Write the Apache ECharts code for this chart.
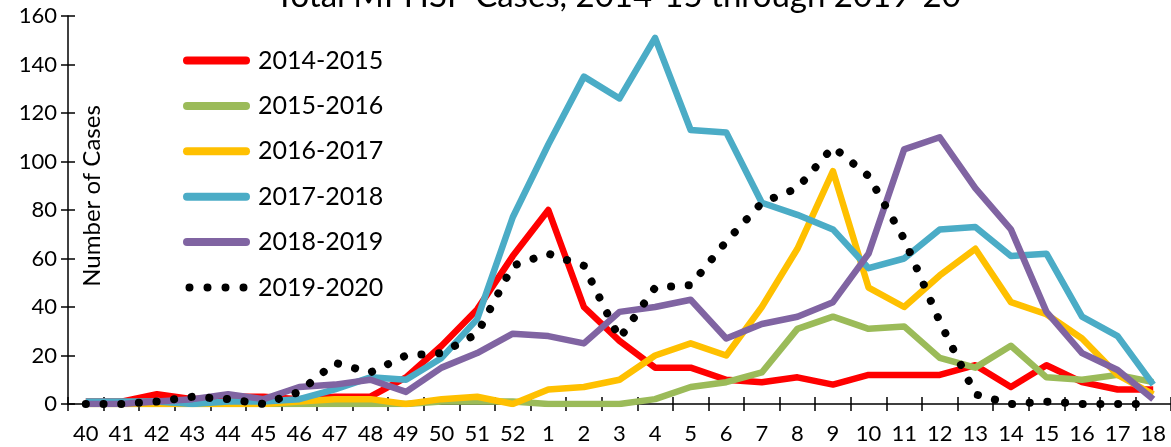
<!DOCTYPE html>
<html>
<head>
<meta charset="utf-8">
<script src="https://cdn.jsdelivr.net/npm/echarts@6/dist/echarts.min.js"></script>
<style>
html,body{margin:0;padding:0;background:#fff;}
#chart{width:1171px;height:447px;}
</style>
</head>
<body>
<div id="chart"></div>
<script>
const weeks = ['40','41','42','43','44','45','46','47','48','49','50','51','52','1','2','3','4','5','6','7','8','9','10','11','12','13','14','15','16','17','18'];
const yTicks = [0,20,40,60,80,100,120,140,160];
const seasonNames = ['2014-2015','2015-2016','2016-2017','2017-2018','2018-2019','2019-2020'];
const cases2014 = [1,1,4,2,3,3,2,3,3,11,24,39,61,80,40,26,15,15,10,9,11,8,12,12,12,16,7,16,9,6,6];
const cases2015 = [0,0,0,0,0,0,0,0,0,0,1,1,1,0,0,0,2,7,9,13,31,36,31,32,19,15,24,11,10,12,9];
const cases2016 = [0,0,0,0,0,0,1,2,2,0,2,3,0,6,7,10,20,25,20,40,64,96,48,40,53,64,42,37,27,12,4];
const cases2017 = [1,1,1,0,1,1,2,6,11,10,19,35,77,107,135,126,151,113,112,83,78,72,56,60,72,73,61,62,36,28,8];
const cases2018 = [0,0,1,2,4,2,7,8,10,5,15,21,29,28,25,38,40,43,27,33,36,42,62,105,110,89,72,38,21,14,2];
const cases2019 = [0,0,1,3,2,0,5,17,13,20,21,29,57,62,57,27,48,49,67,83,89,106,94,68,34,4,0,1,0,0,0];
const colors = ['#FF0000','#9BBB59','#FFC000','#4BACC6','#8064A2','#000000'];
const seriesData = [cases2014,cases2015,cases2016,cases2017,cases2018,cases2019];

const FONT = 'Lato';
const solidIcon = 'path://M4,0 H63 A4,4 0 0 1 63,8 H4 A4,4 0 0 1 4,0 Z';
const dotIcon = 'path://M0,4 A4,4 0 1 0 8,4 A4,4 0 1 0 0,4 Z M18,4 A4,4 0 1 0 26,4 A4,4 0 1 0 18,4 Z M36,4 A4,4 0 1 0 44,4 A4,4 0 1 0 36,4 Z M54,4 A4,4 0 1 0 62,4 A4,4 0 1 0 54,4 Z';

const chart = echarts.init(document.getElementById('chart'), null, {renderer:'canvas'});

const series = seriesData.map((d, i) => {
  const dotted = i === 5;
  return {
    name: seasonNames[i],
    type: 'line',
    data: d,
    symbol: 'none',
    smooth: false,
    itemStyle: {color: colors[i]},
    lineStyle: dotted
      ? {color: colors[i], width: 8, type: [0.1, 17.6], cap: 'round', join: 'round'}
      : {color: colors[i], width: 6.5, cap: 'butt', join: 'round'},
    emphasis: {disabled: true},
    z: 2 + i
  };
});

chart.setOption({
  animation: false,
  backgroundColor: '#ffffff',
  title: {
    text: 'Total MPHSP Cases, 2014-15 through 2019-20',
    left: 275,
    top: -20,
    padding: 0,
    textStyle: {fontFamily: FONT, fontSize: 33, fontWeight: 'normal', color: '#000'}
  },
  legend: {
    orient: 'vertical',
    left: 183,
    top: 48,
    padding: 0,
    itemWidth: 67,
    itemHeight: 8,
    itemGap: 20.4,
    itemStyle: {borderWidth: 0},
    textStyle: {fontFamily: FONT, fontSize: 25, color: '#000', padding: [0,0,0,3]},
    data: seasonNames.map((n, i) => ({name: n, icon: i === 5 ? dotIcon : solidIcon}))
  },
  graphic: [{
    type: 'text',
    x: 92,
    y: 196,
    rotation: Math.PI / 2,
    style: {
      text: 'Number of Cases',
      fontFamily: FONT,
      fontSize: 24,
      fill: '#000',
      align: 'center',
      verticalAlign: 'middle'
    }
  }],
  grid: {left: 68, right: -8, top: 16, bottom: 43, containLabel: false},
  xAxis: [{
    type: 'category',
    data: weeks,
    boundaryGap: true,
    axisLine: {lineStyle: {color: '#000', width: 1.5}},
    axisTick: {show: true, inside: false, length: 7, lineStyle: {color: '#000', width: 1.5}},
    axisLabel: {fontFamily: FONT, fontSize: 22, color: '#000', margin: 19, interval: 0},
    splitLine: {show: false}
  }, {
    type: 'category',
    data: weeks,
    position: 'bottom',
    boundaryGap: true,
    axisLine: {show: false},
    axisTick: {show: true, inside: true, length: 7, lineStyle: {color: '#000', width: 1.5}},
    axisLabel: {show: false},
    splitLine: {show: false}
  }],
  yAxis: [{
    type: 'value',
    min: yTicks[0],
    max: yTicks[yTicks.length - 1],
    interval: yTicks[1] - yTicks[0],
    axisLine: {show: true, lineStyle: {color: '#000', width: 1.5}},
    axisTick: {show: true, inside: false, length: 7, lineStyle: {color: '#000', width: 1.5}},
    axisLabel: {fontFamily: FONT, fontSize: 22, color: '#000', margin: 11},
    splitLine: {show: false}
  }, {
    type: 'value',
    position: 'left',
    min: yTicks[0],
    max: yTicks[yTicks.length - 1],
    interval: yTicks[1] - yTicks[0],
    axisLine: {show: false},
    axisTick: {show: true, inside: true, length: 7, lineStyle: {color: '#000', width: 1.5}},
    axisLabel: {show: false},
    splitLine: {show: false}
  }],
  series: series
});
</script>
</body>
</html>
